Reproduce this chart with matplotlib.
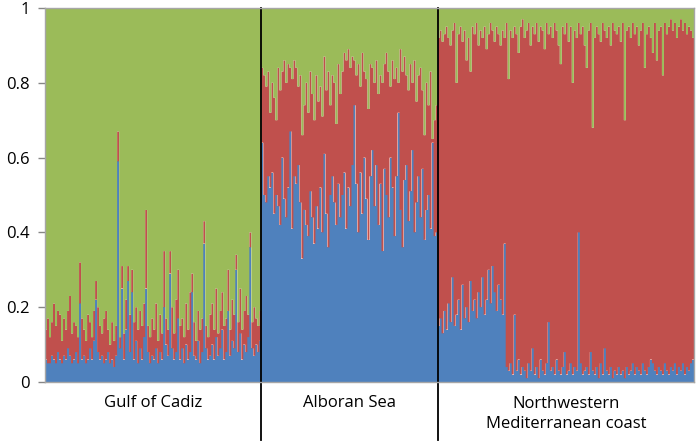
import matplotlib
matplotlib.use("Agg")
import matplotlib.pyplot as plt
import numpy as np

# membership (%) per individual: blue cluster, cumulative top of red cluster
cadiz_blue = [6, 5, 5, 7, 6, 5, 8, 6, 5, 7, 6, 9, 7, 5, 6, 8, 5, 21, 6, 7,
              5, 6, 9, 6, 11, 22, 8, 6, 7, 5, 6, 8, 5, 6, 4, 7, 59, 9, 25, 6,
              14, 27, 8, 24, 6, 11, 5, 9, 6, 12, 25, 8, 5, 7, 6, 9, 5, 8, 6, 20,
              10, 7, 29, 9, 6, 8, 17, 6, 9, 5, 10, 6, 8, 24, 7, 6, 11, 5, 8, 37,
              9, 6, 7, 10, 6, 12, 7, 9, 14, 6, 8, 19, 7, 11, 9, 30, 8, 13, 6, 10,
              8, 12, 36, 9, 7, 10, 8, 11]
cadiz_top = [14, 17, 12, 16, 21, 15, 19, 18, 11, 17, 14, 19, 23, 13, 16, 15, 12, 32, 17, 14,
             11, 18, 16, 12, 19, 27, 20, 15, 13, 17, 19, 14, 10, 16, 11, 15, 67, 12, 31, 13,
             22, 31, 18, 30, 16, 20, 14, 19, 15, 21, 46, 15, 12, 17, 14, 21, 11, 18, 13, 35,
             17, 14, 35, 20, 13, 22, 30, 15, 17, 12, 21, 14, 24, 29, 16, 11, 19, 14, 17, 43,
             15, 12, 18, 21, 14, 25, 13, 19, 24, 15, 17, 30, 14, 22, 18, 34, 16, 25, 14, 19,
             23, 18, 40, 16, 20, 17, 15, 19]

alboran_blue = [64, 50, 48, 55, 52, 56, 45, 50, 47, 42, 60, 49, 44, 52, 67, 41, 55, 53, 58, 48,
                33, 46, 42, 39, 51, 44, 37, 47, 41, 52, 40, 61, 45, 36, 50, 55, 48, 42, 53, 44,
                50, 56, 41, 52, 47, 58, 74, 53, 40, 56, 45, 60, 49, 38, 55, 62, 47, 58, 42, 53,
                35, 57, 50, 44, 60, 52, 39, 55, 72, 46, 36, 54, 58, 43, 51, 62, 40, 48, 55, 44,
                57, 38, 46, 50, 41, 64, 39, 40]
alboran_top = [84, 82, 79, 83, 72, 80, 76, 70, 84, 78, 83, 86, 80, 85, 84, 81, 86, 84, 79, 82,
               66, 74, 80, 72, 83, 77, 70, 82, 75, 79, 71, 87, 78, 83, 74, 82, 80, 69, 85, 77,
               83, 88, 86, 89, 84, 87, 86, 82, 85, 79, 88, 83, 81, 73, 85, 84, 80, 86, 77, 82,
               80, 85, 88, 83, 79, 86, 81, 84, 80, 89, 83, 87, 82, 78, 85, 80, 86, 75, 82, 84,
               78, 66, 80, 74, 83, 65, 70, 74]

nwmed_blue = [15, 17, 13, 19, 14, 21, 16, 28, 15, 18, 22, 14, 26, 17, 20, 16, 27, 19, 22, 17,
              24, 20, 28, 18, 22, 30, 21, 31, 24, 19, 26, 22, 18, 37, 4, 3, 5, 2, 18, 3,
              6, 2, 4, 3, 1, 5, 3, 9, 2, 4, 1, 6, 3, 2, 5, 16, 3, 4, 2, 6,
              3, 2, 4, 8, 2, 3, 5, 2, 4, 3, 40, 5, 2, 3, 4, 2, 8, 3, 2, 4,
              1, 5, 2, 9, 3, 2, 4, 1, 3, 2, 4, 2, 3, 1, 4, 2, 3, 5, 2, 4,
              3, 2, 5, 3, 2, 4, 6, 5, 3, 2, 4, 3, 2, 5, 3, 2, 4, 3, 5, 2,
              4, 3, 5, 2, 4, 3, 5, 6]
nwmed_top = [92, 94, 91, 93, 95, 92, 90, 94, 96, 80, 93, 95, 91, 94, 86, 92, 83, 95, 93, 96,
             90, 94, 92, 95, 89, 93, 96, 94, 91, 95, 93, 90, 94, 92, 96, 81, 94, 92, 95, 93,
             88, 95, 97, 92, 94, 96, 90, 95, 93, 96, 91, 95, 94, 89, 96, 93, 95, 92, 96, 94,
             90, 85, 95, 93, 96, 91, 95, 80, 94, 92, 96, 93, 95, 90, 84, 94, 96, 68, 92, 95,
             93, 91, 96, 94, 92, 95, 90, 96, 94, 93, 95, 91, 96, 70, 94, 95, 92, 96, 93, 95,
             90, 94, 96, 84, 93, 95, 92, 88, 96, 86, 94, 95, 82, 96, 93, 95, 97, 94, 96, 92,
             95, 97, 94, 96, 93, 95, 94, 92]

groups = ["Gulf of Cadiz", "Alboran Sea", "Northwestern\nMediterranean coast"]

blue = np.array(cadiz_blue + alboran_blue + nwmed_blue) / 100
top = np.array(cadiz_top + alboran_top + nwmed_top) / 100
sizes = [len(cadiz_blue), len(alboran_blue), len(nwmed_blue)]

fig = plt.figure(figsize=(6.97, 4.43), dpi=100)
ax = fig.add_axes([45 / 697, 1 - 382 / 443, 649 / 697, 374 / 443])

# one filled step polygon per cluster -> no seams between individuals
bins = np.arange(len(blue) + 1) - 0.5
ax.stairs(blue, bins, baseline=0, fill=True, color="#4F81BD", linewidth=0)
ax.stairs(top, bins, baseline=blue, fill=True, color="#C0504D", linewidth=0)
ax.stairs(np.ones_like(top), bins, baseline=top, fill=True, color="#9BBB59", linewidth=0)

ax.set_xlim(-0.5, len(blue) - 0.5)
ax.set_ylim(0, 1)
ax.set_xticks([])
ax.set_yticks([0, 0.2, 0.4, 0.6, 0.8, 1])
ax.set_yticklabels(["0", "0.2", "0.4", "0.6", "0.8", "1"])
ax.tick_params(axis="y", length=5, width=1, color="#868686", pad=6,
               labelsize=12, labelcolor="black")
for lab in ax.get_yticklabels():
    lab.set_family("Open Sans")
for s in ax.spines.values():
    s.set_color("#A6A6A6")
    s.set_linewidth(1)

# group dividers and labels
edges = np.cumsum([0] + sizes) - 0.5
for e in edges[1:-1]:
    ax.plot([e, e], [1, -0.155], color="black", linewidth=1.3, clip_on=False)
for i, name in enumerate(groups):
    c = (edges[i] + edges[i + 1]) / 2
    if "\n" in name:
        ax.text(c, -0.085, name, ha="center", va="center", fontsize=12,
                family="Open Sans", linespacing=1.35)
    else:
        ax.text(c, -0.056, name, ha="center", va="center", fontsize=12,
                family="Open Sans")

fig.savefig("out.png", dpi=100)
